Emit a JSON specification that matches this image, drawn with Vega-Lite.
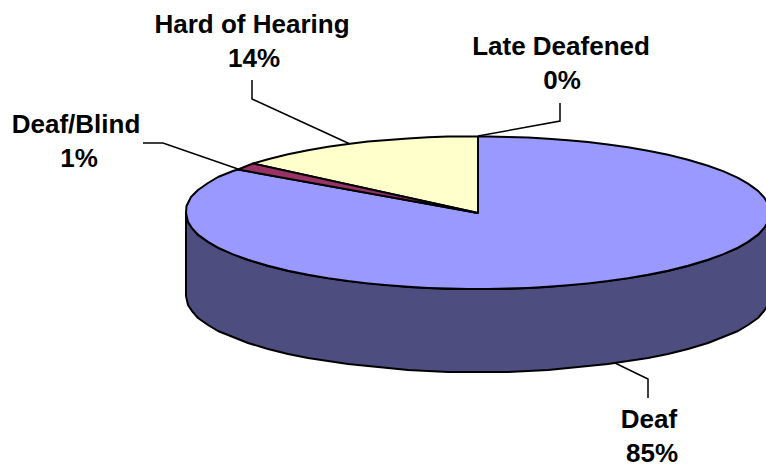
{
"$schema":"https://vega.github.io/schema/vega-lite/v6.json",
"width":766,"height":464,"padding":0,
"autosize":{"type":"none"},
"background":"white",
"config":{"view":{"stroke":null}},
"datasets":{
"faces":[
{"slice":"Side","seq":1,"x":186,"y":213},{"slice":"Side","seq":2,"x":188,"y":222},{"slice":"Side","seq":3,"x":192,"y":228},{"slice":"Side","seq":4,"x":198,"y":235},{"slice":"Side","seq":5,"x":208,"y":242},{"slice":"Side","seq":6,"x":218,"y":248},{"slice":"Side","seq":7,"x":233,"y":254},{"slice":"Side","seq":8,"x":248,"y":260},{"slice":"Side","seq":9,"x":268,"y":266},{"slice":"Side","seq":10,"x":288,"y":271},{"slice":"Side","seq":11,"x":308,"y":275},{"slice":"Side","seq":12,"x":328,"y":278},{"slice":"Side","seq":13,"x":348,"y":281},{"slice":"Side","seq":14,"x":368,"y":283},{"slice":"Side","seq":15,"x":388,"y":285},{"slice":"Side","seq":16,"x":408,"y":287},{"slice":"Side","seq":17,"x":428,"y":288},{"slice":"Side","seq":18,"x":448,"y":289},{"slice":"Side","seq":19,"x":468,"y":289},{"slice":"Side","seq":20,"x":488,"y":289},{"slice":"Side","seq":21,"x":508,"y":289},{"slice":"Side","seq":22,"x":528,"y":288},{"slice":"Side","seq":23,"x":548,"y":287},{"slice":"Side","seq":24,"x":568,"y":285},{"slice":"Side","seq":25,"x":588,"y":283},{"slice":"Side","seq":26,"x":608,"y":281},{"slice":"Side","seq":27,"x":628,"y":278},{"slice":"Side","seq":28,"x":648,"y":275},{"slice":"Side","seq":29,"x":668,"y":271},{"slice":"Side","seq":30,"x":688,"y":266},{"slice":"Side","seq":31,"x":708,"y":260},{"slice":"Side","seq":32,"x":723,"y":254},{"slice":"Side","seq":33,"x":738,"y":248},{"slice":"Side","seq":34,"x":748,"y":242},{"slice":"Side","seq":35,"x":758,"y":235},{"slice":"Side","seq":36,"x":764,"y":228},{"slice":"Side","seq":37,"x":768,"y":222},{"slice":"Side","seq":38,"x":770,"y":213},{"slice":"Side","seq":39,"x":770,"y":296},{"slice":"Side","seq":40,"x":768,"y":305},{"slice":"Side","seq":41,"x":764,"y":311},{"slice":"Side","seq":42,"x":758,"y":318},{"slice":"Side","seq":43,"x":748,"y":325},{"slice":"Side","seq":44,"x":738,"y":331},{"slice":"Side","seq":45,"x":723,"y":337},{"slice":"Side","seq":46,"x":708,"y":343},{"slice":"Side","seq":47,"x":688,"y":349},{"slice":"Side","seq":48,"x":668,"y":354},{"slice":"Side","seq":49,"x":648,"y":358},{"slice":"Side","seq":50,"x":628,"y":361},{"slice":"Side","seq":51,"x":608,"y":364},{"slice":"Side","seq":52,"x":588,"y":366},{"slice":"Side","seq":53,"x":568,"y":368},{"slice":"Side","seq":54,"x":548,"y":370},{"slice":"Side","seq":55,"x":528,"y":371},{"slice":"Side","seq":56,"x":508,"y":372},{"slice":"Side","seq":57,"x":488,"y":372},{"slice":"Side","seq":58,"x":468,"y":372},{"slice":"Side","seq":59,"x":448,"y":372},{"slice":"Side","seq":60,"x":428,"y":371},{"slice":"Side","seq":61,"x":408,"y":370},{"slice":"Side","seq":62,"x":388,"y":368},{"slice":"Side","seq":63,"x":368,"y":366},{"slice":"Side","seq":64,"x":348,"y":364},{"slice":"Side","seq":65,"x":328,"y":361},{"slice":"Side","seq":66,"x":308,"y":358},{"slice":"Side","seq":67,"x":288,"y":354},{"slice":"Side","seq":68,"x":268,"y":349},{"slice":"Side","seq":69,"x":248,"y":343},{"slice":"Side","seq":70,"x":233,"y":337},{"slice":"Side","seq":71,"x":218,"y":331},{"slice":"Side","seq":72,"x":208,"y":325},{"slice":"Side","seq":73,"x":198,"y":318},{"slice":"Side","seq":74,"x":192,"y":311},{"slice":"Side","seq":75,"x":188,"y":305},{"slice":"Side","seq":76,"x":186,"y":296},{"slice":"Side","seq":77,"x":186,"y":213},
{"slice":"Deaf","seq":1,"x":478,"y":136.5},{"slice":"Deaf","seq":2,"x":488,"y":136.5},{"slice":"Deaf","seq":3,"x":508,"y":136.9},{"slice":"Deaf","seq":4,"x":528,"y":137.6},{"slice":"Deaf","seq":5,"x":548,"y":138.7},{"slice":"Deaf","seq":6,"x":568,"y":140.2},{"slice":"Deaf","seq":7,"x":588,"y":142.1},{"slice":"Deaf","seq":8,"x":608,"y":144.4},{"slice":"Deaf","seq":9,"x":628,"y":147.3},{"slice":"Deaf","seq":10,"x":648,"y":150.7},{"slice":"Deaf","seq":11,"x":668,"y":154.8},{"slice":"Deaf","seq":12,"x":688,"y":159.7},{"slice":"Deaf","seq":13,"x":708,"y":165.7},{"slice":"Deaf","seq":14,"x":723,"y":171.1},{"slice":"Deaf","seq":15,"x":738,"y":177.9},{"slice":"Deaf","seq":16,"x":748,"y":183.6},{"slice":"Deaf","seq":17,"x":758,"y":190.9},{"slice":"Deaf","seq":18,"x":764,"y":197.2},{"slice":"Deaf","seq":19,"x":768,"y":203.6},{"slice":"Deaf","seq":20,"x":770,"y":213},{"slice":"Deaf","seq":21,"x":768,"y":221.9},{"slice":"Deaf","seq":22,"x":764,"y":228.3},{"slice":"Deaf","seq":23,"x":758,"y":234.6},{"slice":"Deaf","seq":24,"x":748,"y":241.9},{"slice":"Deaf","seq":25,"x":738,"y":247.6},{"slice":"Deaf","seq":26,"x":723,"y":254.4},{"slice":"Deaf","seq":27,"x":708,"y":259.8},{"slice":"Deaf","seq":28,"x":688,"y":265.8},{"slice":"Deaf","seq":29,"x":668,"y":270.7},{"slice":"Deaf","seq":30,"x":648,"y":274.8},{"slice":"Deaf","seq":31,"x":628,"y":278.2},{"slice":"Deaf","seq":32,"x":608,"y":281.1},{"slice":"Deaf","seq":33,"x":588,"y":283.4},{"slice":"Deaf","seq":34,"x":568,"y":285.3},{"slice":"Deaf","seq":35,"x":548,"y":286.8},{"slice":"Deaf","seq":36,"x":528,"y":287.9},{"slice":"Deaf","seq":37,"x":508,"y":288.6},{"slice":"Deaf","seq":38,"x":488,"y":289},{"slice":"Deaf","seq":39,"x":468,"y":289},{"slice":"Deaf","seq":40,"x":448,"y":288.6},{"slice":"Deaf","seq":41,"x":428,"y":287.9},{"slice":"Deaf","seq":42,"x":408,"y":286.8},{"slice":"Deaf","seq":43,"x":388,"y":285.3},{"slice":"Deaf","seq":44,"x":368,"y":283.4},{"slice":"Deaf","seq":45,"x":348,"y":281.1},{"slice":"Deaf","seq":46,"x":328,"y":278.2},{"slice":"Deaf","seq":47,"x":308,"y":274.8},{"slice":"Deaf","seq":48,"x":288,"y":270.7},{"slice":"Deaf","seq":49,"x":268,"y":265.8},{"slice":"Deaf","seq":50,"x":248,"y":259.8},{"slice":"Deaf","seq":51,"x":233,"y":254.4},{"slice":"Deaf","seq":52,"x":218,"y":247.6},{"slice":"Deaf","seq":53,"x":208,"y":241.9},{"slice":"Deaf","seq":54,"x":198,"y":234.6},{"slice":"Deaf","seq":55,"x":192,"y":228.3},{"slice":"Deaf","seq":56,"x":188,"y":221.9},{"slice":"Deaf","seq":57,"x":186,"y":213},{"slice":"Deaf","seq":58,"x":186.5,"y":206},{"slice":"Deaf","seq":59,"x":191,"y":197},{"slice":"Deaf","seq":60,"x":198,"y":190},{"slice":"Deaf","seq":61,"x":208,"y":183},{"slice":"Deaf","seq":62,"x":218,"y":177},{"slice":"Deaf","seq":63,"x":233,"y":171},{"slice":"Deaf","seq":64,"x":238,"y":169.5},{"slice":"Deaf","seq":65,"x":478,"y":213},{"slice":"Deaf","seq":66,"x":478,"y":136.5},
{"slice":"Hard of Hearing","seq":1,"x":478,"y":213},{"slice":"Hard of Hearing","seq":2,"x":478,"y":136.5},{"slice":"Hard of Hearing","seq":3,"x":468,"y":136.5},{"slice":"Hard of Hearing","seq":4,"x":448,"y":136.5},{"slice":"Hard of Hearing","seq":5,"x":428,"y":137.3},{"slice":"Hard of Hearing","seq":6,"x":408,"y":138.4},{"slice":"Hard of Hearing","seq":7,"x":388,"y":139.9},{"slice":"Hard of Hearing","seq":8,"x":368,"y":141.6},{"slice":"Hard of Hearing","seq":9,"x":348,"y":144},{"slice":"Hard of Hearing","seq":10,"x":328,"y":146.8},{"slice":"Hard of Hearing","seq":11,"x":308,"y":150.2},{"slice":"Hard of Hearing","seq":12,"x":288,"y":154.3},{"slice":"Hard of Hearing","seq":13,"x":268,"y":159.2},{"slice":"Hard of Hearing","seq":14,"x":253,"y":163.5},{"slice":"Hard of Hearing","seq":15,"x":478,"y":213},
{"slice":"Deaf/Blind","seq":1,"x":478,"y":213},{"slice":"Deaf/Blind","seq":2,"x":253,"y":163.5},{"slice":"Deaf/Blind","seq":3,"x":238,"y":169.5},{"slice":"Deaf/Blind","seq":4,"x":478,"y":213}
],
"leaders":[
{"label":"Hard of Hearing","seq":1,"x":252,"y":80},{"label":"Hard of Hearing","seq":2,"x":252,"y":99},{"label":"Hard of Hearing","seq":3,"x":350,"y":144},
{"label":"Deaf/Blind","seq":1,"x":143,"y":143},{"label":"Deaf/Blind","seq":2,"x":163,"y":143},{"label":"Deaf/Blind","seq":3,"x":238,"y":169},
{"label":"Late Deafened","seq":1,"x":560,"y":103},{"label":"Late Deafened","seq":2,"x":560,"y":121},{"label":"Late Deafened","seq":3,"x":478,"y":136},
{"label":"Deaf","seq":1,"x":648,"y":398},{"label":"Deaf","seq":2,"x":648,"y":379},{"label":"Deaf","seq":3,"x":615,"y":363}
],
"labels":[
{"text":"Hard of Hearing","x":252,"y":33},{"text":"14%","x":254,"y":67},
{"text":"Deaf/Blind","x":76,"y":133},{"text":"1%","x":79,"y":167},
{"text":"Late Deafened","x":561,"y":55},{"text":"0%","x":562,"y":89},
{"text":"Deaf","x":649,"y":428},{"text":"85%","x":652,"y":462}
]
},
"layer":[
{"data":{"name":"faces"},
 "mark":{"type":"line","stroke":"black","strokeWidth":2,"strokeJoin":"round","clip":true},
 "encoding":{
  "x":{"field":"x","type":"quantitative","scale":{"domain":[0,766],"nice":false,"zero":false},"axis":null},
  "y":{"field":"y","type":"quantitative","scale":{"domain":[464,0],"nice":false,"zero":false},"axis":null},
  "order":{"field":"seq"},
  "fill":{"field":"slice","type":"nominal","legend":null,"scale":{"domain":["Side","Deaf","Hard of Hearing","Deaf/Blind"],"range":["#4D4D80","#9999FF","#FFFFCC","#993366"]}}
 }},
{"data":{"name":"leaders"},
 "mark":{"type":"line","stroke":"black","strokeWidth":1.5},
 "encoding":{
  "x":{"field":"x","type":"quantitative","scale":{"domain":[0,766],"nice":false,"zero":false},"axis":null},
  "y":{"field":"y","type":"quantitative","scale":{"domain":[464,0],"nice":false,"zero":false},"axis":null},
  "order":{"field":"seq"},
  "detail":{"field":"label"}
 }},
{"data":{"name":"labels"},
 "mark":{"type":"text","font":"Liberation Sans","fontWeight":"bold","fontSize":26,"align":"center","baseline":"alphabetic","color":"black"},
 "encoding":{
  "x":{"field":"x","type":"quantitative","scale":{"domain":[0,766],"nice":false,"zero":false},"axis":null},
  "y":{"field":"y","type":"quantitative","scale":{"domain":[464,0],"nice":false,"zero":false},"axis":null},
  "text":{"field":"text"}
 }}
]
}
